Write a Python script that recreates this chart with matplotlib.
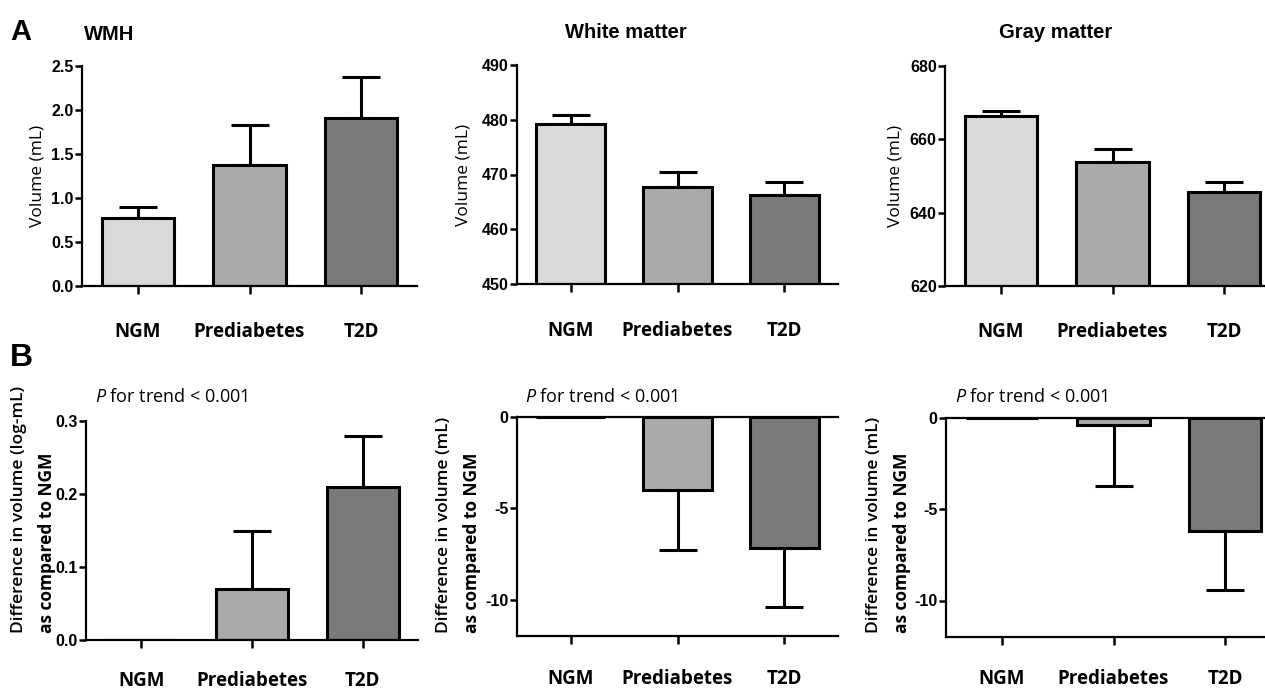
import matplotlib
matplotlib.use("Agg")
import matplotlib.pyplot as plt
import numpy as np

plt.rcParams['axes.unicode_minus'] = False
plt.rcParams['mathtext.fontset'] = 'custom'
plt.rcParams['mathtext.it'] = 'Open Sans:italic'
plt.rcParams['mathtext.rm'] = 'Open Sans'

# data
groups = ['NGM', 'Prediabetes', 'T2D']
bar_colors = ['#d9d9d9', '#aaaaaa', '#7a7a7a']

wmh_mean = [0.77, 1.37, 1.91]
wmh_sem = [0.13, 0.46, 0.46]
wm_mean = [479.2, 467.7, 466.2]
wm_sem = [1.6, 2.7, 2.5]
gm_mean = [666.4, 653.8, 645.7]
gm_sem = [1.3, 3.5, 2.7]

wmh_diff = [0.0, 0.07, 0.21]
wmh_diff_ci = [0.0, 0.08, 0.07]
wm_diff = [0.0, -4.0, -7.2]
wm_diff_ci = [0.0, 3.3, 3.2]
gm_diff = [0.0, -0.4, -6.2]
gm_diff_ci = [0.0, 3.3, 3.2]

wmh_ticks = [0.0, 0.5, 1.0, 1.5, 2.0, 2.5]
wm_ticks = [450, 460, 470, 480, 490]
gm_ticks = [620, 640, 660, 680]
wmh_diff_ticks = [0.0, 0.1, 0.2, 0.3]
diff_ticks = [0, -5, -10]

TICKFONT = 'Liberation Sans'
TEXTFONT = 'Open Sans'
W, H = 1265, 690

fig = plt.figure(figsize=(12.65, 6.9), dpi=100)
fig.patch.set_facecolor('white')


def px_axes(left, bottom, top, width=335):
    return fig.add_axes([left / W, 1 - bottom / H, width / W, (bottom - top) / H])


def draw_panel(ax, mean, err, ylim, yticks, ytick_fmt, xpad, top_spine=False):
    x = np.arange(len(groups))
    ax.bar(x, mean, width=0.65, color=bar_colors, edgecolor='black', linewidth=2.2, zorder=2)
    for xi, m, e in zip(x, mean, err):
        if e == 0:
            continue
        if m >= 0:
            yerr = [[0], [e]]
        else:
            yerr = [[e], [0]]
        ax.errorbar(xi, m, yerr=yerr, fmt='none', ecolor='black', elinewidth=2.2,
                    capsize=14, capthick=2.2, zorder=1)
    ax.set_xlim(-0.5, 2.5)
    ax.set_ylim(*ylim)
    ax.set_yticks(yticks)
    ax.set_yticklabels([ytick_fmt.format(t) for t in yticks], fontfamily=TICKFONT,
                       fontweight='bold', fontsize=11.5)
    ax.set_xticks(x)
    ax.set_xticklabels(groups, fontfamily=TEXTFONT, fontweight='bold', fontsize=13.5)
    ax.tick_params(axis='x', length=6, width=1.8, pad=xpad)
    ax.tick_params(axis='y', length=5, width=1.8, pad=1)
    ax.spines['right'].set_visible(False)
    ax.spines['top'].set_visible(top_spine)
    for s in ['left', 'bottom', 'top']:
        ax.spines[s].set_linewidth(1.6)
    ax.patch.set_alpha(0)


# row A
ax1 = px_axes(82, 286, 66)
draw_panel(ax1, wmh_mean, wmh_sem, (0, 2.5), wmh_ticks, '{:.1f}', 20)
ax2 = px_axes(517, 284, 65, 321)
draw_panel(ax2, wm_mean, wm_sem, (450, 490), wm_ticks, '{:d}', 21)
ax3 = px_axes(945, 286, 66)
draw_panel(ax3, gm_mean, gm_sem, (620, 680), gm_ticks, '{:d}', 20)

for ax, xl in [(ax1, -0.133), (ax2, -0.168), (ax3, -0.149)]:
    ax.set_ylabel('Volume (mL)', fontfamily=TEXTFONT, fontsize=12.5, va='center')
    ax.yaxis.set_label_coords(xl, 0.5)

fig.text(84 / W, 1 - 34 / H, 'WMH', fontfamily=TICKFONT, fontweight='bold', fontsize=14.5,
         ha='left', va='center')
fig.text(626 / W, 1 - 33 / H, 'White matter', fontfamily=TICKFONT, fontweight='bold',
         fontsize=14.5, ha='center', va='center')
fig.text(1056 / W, 1 - 33 / H, 'Gray matter', fontfamily=TICKFONT, fontweight='bold',
         fontsize=14.5, ha='center', va='center')
fig.text(10 / W, 1 - 32 / H, 'A', fontfamily=TICKFONT, fontweight='bold', fontsize=21,
         ha='left', va='center')
fig.text(10 / W, 1 - 358 / H, 'B', fontfamily=TICKFONT, fontweight='bold', fontsize=23,
         ha='left', va='center')

# row B
bx1 = px_axes(86, 640, 421, 332)
draw_panel(bx1, wmh_diff, wmh_diff_ci, (0, 0.3), wmh_diff_ticks, '{:.1f}', 16)
bx2 = px_axes(517, 636, 417, 321)
draw_panel(bx2, wm_diff, wm_diff_ci, (-12, 0), diff_ticks, '{:d}', 18, top_spine=True)
bx3 = px_axes(946, 637, 418)
draw_panel(bx3, gm_diff, gm_diff_ci, (-12, 0), diff_ticks, '{:d}', 17, top_spine=True)

# two-line y labels, both lines starting at the same bottom point
ylab_b = [('Difference in volume (log-mL)', 19), ('Difference in volume (mL)', 444),
          ('Difference in volume (mL)', 874)]
for txt, xc in ylab_b:
    fig.text(xc / W, 1 - 633 / H, txt, fontfamily=TEXTFONT, fontweight='semibold',
             fontsize=12.5, rotation=90, ha='left', va='center', rotation_mode='anchor')
    fig.text((xc + 28) / W, 1 - 633 / H, 'as compared to NGM', fontfamily=TEXTFONT,
             fontweight='bold', fontsize=12.5, rotation=90, ha='left', va='center',
             rotation_mode='anchor')

for xl in [95, 525, 955]:
    fig.text(xl / W, 1 - 402 / H, r'$P$ for trend < 0.001', fontfamily=TEXTFONT,
             fontsize=13, ha='left', va='baseline')

plt.savefig('out.png', dpi=100)
